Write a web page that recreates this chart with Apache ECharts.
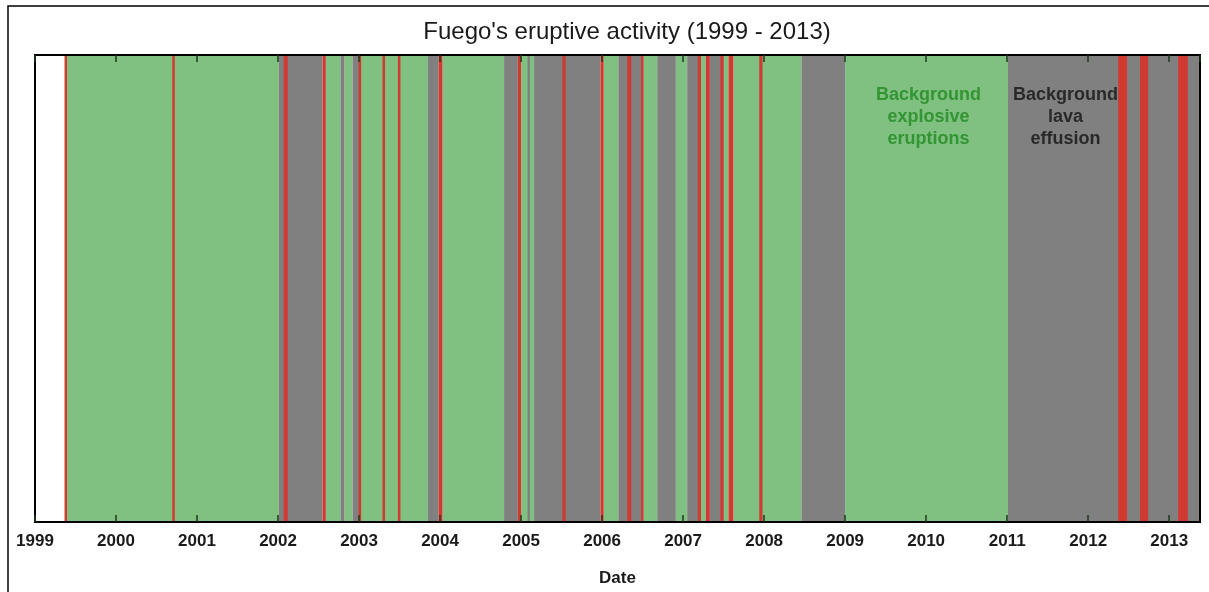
<!DOCTYPE html>
<html>
<head>
<meta charset="utf-8">
<script src="https://cdn.jsdelivr.net/npm/echarts@6/dist/echarts.min.js"></script>
<style>
html,body{margin:0;padding:0;background:#fff;}
#chart{width:1209px;height:592px;}
</style>
</head>
<body>
<div id="chart"></div>
<script>
// Decimal-year periods
var xMin = 1999, xMax = 2013.38;
var yearTicks = [1999,2000,2001,2002,2003,2004,2005,2006,2007,2008,2009,2010,2011,2012,2013];

// Background explosive eruptions (green)
var explosivePeriods = [
  [1999.38, 2002.01],
  [2002.59, 2002.77],
  [2002.82, 2002.92],
  [2003.02, 2003.85],
  [2004.03, 2004.79],
  [2005.00, 2005.16],
  [2006.02, 2006.20],
  [2006.51, 2006.68],
  [2006.91, 2007.05],
  [2007.22, 2007.28],
  [2007.50, 2007.56],
  [2007.62, 2008.46],
  [2009.00, 2011.01]
];

// Background lava effusion (gray)
var effusionPeriods = [
  [2002.01, 2002.55],
  [2002.77, 2002.82],
  [2002.92, 2003.00],
  [2003.85, 2003.98],
  [2004.79, 2004.96],
  [2005.08, 2005.11],
  [2005.16, 2005.98],
  [2006.20, 2006.51],
  [2006.68, 2006.91],
  [2007.05, 2007.22],
  [2007.33, 2007.50],
  [2008.46, 2009.00],
  [2011.01, 2013.38]
];

// Paroxysmal eruptions (red)
var paroxysms = [
  [1999.37, 1999.39],
  [2000.70, 2000.72],
  [2002.07, 2002.12],
  [2002.55, 2002.59],
  [2003.00, 2003.02],
  [2003.29, 2003.32],
  [2003.48, 2003.51],
  [2003.98, 2004.03],
  [2004.96, 2005.00],
  [2005.51, 2005.55],
  [2005.98, 2006.02],
  [2006.31, 2006.36],
  [2006.48, 2006.51],
  [2007.18, 2007.22],
  [2007.28, 2007.33],
  [2007.46, 2007.50],
  [2007.56, 2007.62],
  [2007.94, 2007.98],
  [2012.37, 2012.48],
  [2012.64, 2012.74],
  [2013.11, 2013.23]
];

var annotations = [
  {x: 2010.03, y: 0.8675, text: 'Background\nexplosive\neruptions', color: '#1f8a1f'},
  {x: 2011.72, y: 0.8675, text: 'Background\nlava\neffusion', color: '#111111'}
];

var chart = echarts.init(document.getElementById('chart'));

function bandSeries(name, data, color, minW) {
  return {
    name: name,
    type: 'custom',
    xAxisIndex: 0,
    yAxisIndex: 0,
    silent: true,
    renderItem: function (params, api) {
      var p0 = api.coord([api.value(0), 1]);
      var p1 = api.coord([api.value(1), 0]);
      var w = p1[0] - p0[0];
      var x = p0[0];
      if (w < minW) { x = (p0[0] + p1[0]) / 2 - minW / 2; w = minW; }
      return {
        type: 'rect',
        shape: {x: x, y: p0[1], width: w, height: p1[1] - p0[1]},
        style: {fill: color}
      };
    },
    encode: {x: [0, 1]},
    data: data
  };
}

var FONT = 'Liberation Sans, Arial, sans-serif';

var option = {
  animation: false,
  backgroundColor: '#ffffff',
  title: {
    text: "Fuego's eruptive activity (1999 - 2013)",
    left: 622,
    top: 15,
    textAlign: 'center',
    textStyle: {fontFamily: FONT, fontSize: 24, fontWeight: 'normal', color: '#1a1a1a'}
  },
  grid: {
    left: 35, right: 9, top: 55, bottom: 69,
    show: true, borderColor: '#000', borderWidth: 2, backgroundColor: 'transparent',
    z: 10
  },
  xAxis: [{
    type: 'value', min: xMin, max: xMax, interval: 1,
    position: 'bottom',
    name: 'Date', nameLocation: 'middle', nameGap: 48,
    nameTextStyle: {fontFamily: FONT, fontSize: 17, fontWeight: 'bold', color: '#1a1a1a'},
    axisLine: {show: true, lineStyle: {color: '#000', width: 2}},
    axisTick: {show: true, inside: true, length: 7, lineStyle: {color: '#1d3a1d', width: 1.5}},
    axisLabel: {
      show: true, margin: 11,
      fontFamily: FONT, fontSize: 17, fontWeight: 'bold', color: '#1a1a1a',
      showMaxLabel: false,
      formatter: function (v) { return yearTicks.indexOf(Math.round(v)) >= 0 && Math.abs(v - Math.round(v)) < 1e-6 ? String(Math.round(v)) : ''; }
    },
    splitLine: {show: false},
    z: 10
  }, {
    type: 'value', min: xMin, max: xMax, interval: 1,
    position: 'top',
    axisLine: {show: true, lineStyle: {color: '#000', width: 2}},
    axisTick: {show: true, inside: true, length: 7, lineStyle: {color: '#1d3a1d', width: 1.5}},
    axisLabel: {show: false},
    splitLine: {show: false},
    z: 10
  }],
  yAxis: [{
    type: 'value', min: 0, max: 1,
    axisLine: {show: true, lineStyle: {color: '#000', width: 2}},
    axisTick: {show: false}, axisLabel: {show: false}, splitLine: {show: false}
  }],
  series: [
    bandSeries('Background explosive eruptions', explosivePeriods, '#80c080', 0),
    bandSeries('Background lava effusion', effusionPeriods, '#808080', 0),
    bandSeries('Paroxysm', paroxysms, '#d03a32', 2.5),
    {
      type: 'scatter',
      symbolSize: 0,
      silent: true,
      data: annotations.map(function (a) {
        return {
          value: [a.x, a.y],
          label: {
            show: true, position: 'inside', formatter: a.text,
            fontFamily: FONT, fontSize: 18, fontWeight: 'bold',
            lineHeight: 22, color: a.color, align: 'center', verticalAlign: 'middle'
          }
        };
      }),
      z: 20
    }
  ],
  graphic: [{
    type: 'rect',
    shape: {x: 8, y: 6, width: 1215, height: 600},
    style: {fill: 'none', stroke: '#000', lineWidth: 1.5},
    silent: true,
    z: 100
  }]
};
chart.setOption(option);
</script>
</body>
</html>
